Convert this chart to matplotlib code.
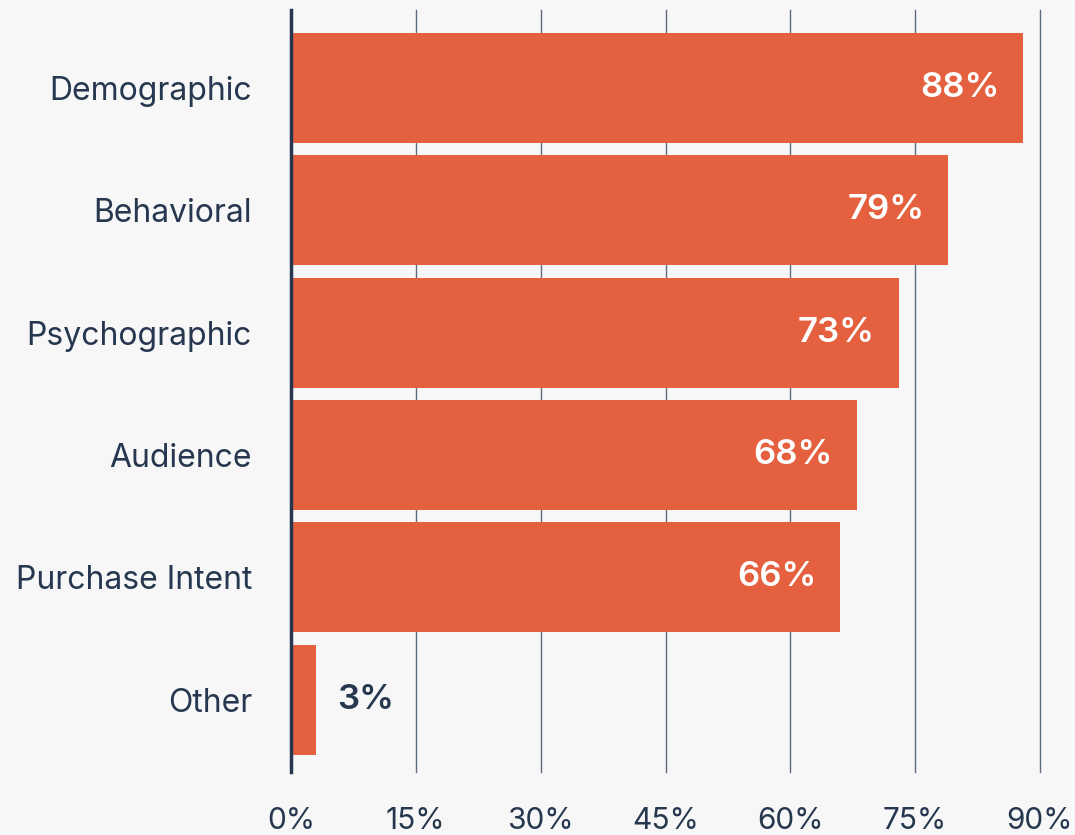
import matplotlib
matplotlib.use("Agg")
import matplotlib.pyplot as plt
from matplotlib.ticker import FixedLocator

categories = ["Demographic", "Behavioral", "Psychographic", "Audience", "Purchase Intent", "Other"]
values = [88, 79, 73, 68, 66, 3]
xticks = [0, 15, 30, 45, 60, 75, 90]
xtick_labels = ["0%", "15%", "30%", "45%", "60%", "75%", "90%"]

BG = "#F7F7F7"
BAR = "#E4603F"
NAVY = "#26374F"
GRID = "#5E6C80"

plt.rcParams["font.family"] = ["Inter", "DejaVu Sans"]

fig = plt.figure(figsize=(10.75, 8.35), dpi=100, facecolor=BG)
ax = fig.add_axes([291 / 1075, 1 - 772 / 835, (1040 - 291) / 1075, (772 - 10) / 835])
ax.set_facecolor(BG)

pos = list(range(len(categories)))
ax.barh(pos, values, height=0.9, color=BAR, zorder=3)

ax.set_xlim(0, 90)
ax.set_ylim(5.59, -0.637)

ax.xaxis.set_major_locator(FixedLocator(xticks))
ax.set_xticklabels(xtick_labels)
ax.set_yticks(pos)
ax.set_yticklabels(categories)

ax.grid(axis="x", color=GRID, linewidth=1.0, zorder=1)
for gl in ax.get_xgridlines():
    gl.set_clip_on(False)
ax.tick_params(axis="x", length=0, pad=25, labelsize=21.5, labelcolor=NAVY)
ax.tick_params(axis="y", length=0, pad=28, labelsize=23, labelcolor=NAVY)

for side in ["top", "right", "bottom"]:
    ax.spines[side].set_visible(False)
ax.spines["left"].set_color(NAVY)
ax.spines["left"].set_linewidth(2.5)
ax.spines["left"].set_zorder(4)

for i, v in enumerate(values):
    if v > 10:
        ax.text(v - 2.9, i, f"{v}%", ha="right", va="center", color="white",
                fontsize=25, fontweight="semibold", zorder=5)
    else:
        ax.text(v + 2.5, i, f"{v}%", ha="left", va="center", color=NAVY,
                fontsize=25, fontweight="semibold", zorder=5)

fig.savefig("out.png", dpi=100, facecolor=BG)
